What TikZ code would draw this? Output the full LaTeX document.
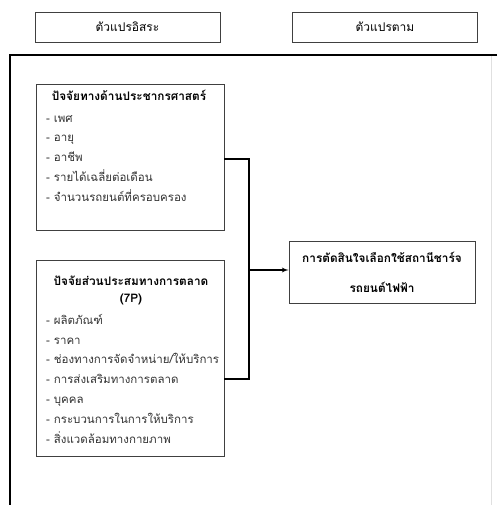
\documentclass[tikz,border=0pt]{standalone}
\usepackage{fontspec}
\setmainfont[Script=Thai]{Loma}
\usetikzlibrary{arrows}

\begin{document}
\begin{tikzpicture}[x=1pt,y=-1pt]
	\tikzset{font=\fontsize{12}{19.8}\selectfont}
	\tikzset{headbox/.style = {draw=black!75,line width=0.8pt,minimum width=185pt,minimum height=30pt,inner sep=0pt}}
	\tikzset{factbox/.style = {draw=black!75,line width=0.8pt,minimum width=188pt,inner sep=0pt}}
	\tikzset{title/.style = {font=\fontsize{11.8}{17}\selectfont\bfseries,align=center,anchor=north,inner sep=0pt}}
	\tikzset{items/.style = {font=\fontsize{11.5}{19.8}\selectfont,align=left,anchor=north west,inner sep=0pt,text=black!80}}
	\tikzset{link/.style = {line width=1.3pt}}
	\useasboundingbox (0,0) rectangle (497,505);
    % variable headings
    \node[headbox] (indep) at (127.5,27) {ตัวแปรอิสระ};
    \node[headbox] (dep) at (385,27) {ตัวแปรตาม};
    % frame
    \draw[line width=1.6pt] (497,55) -- (10,55) -- (10,505);
    \draw[black!12,line width=0.8pt] (491,56) -- (491,505);
    % demographic factors
    \node[factbox,minimum height=146pt] (demo) at (130,157) {};
    \node[title] (demotitle) at (129,90) {ปัจจัยทางด้านประชากรศาสตร์};
    \node[items] (demolist) at (46,115) {- เพศ\\- อายุ\\- อาชีพ\\- รายได้เฉลี่ยต่อเดือน\\- จำนวนรถยนต์ที่ครอบครอง};
    % marketing mix
    \node[factbox,minimum height=196pt] (mix) at (130,358) {};
    \node[title] (mixtitle) at (131,276) {ปัจจัยส่วนประสมทางการตลาด\\(7P)};
    \node[items] (mixlist) at (46,314) {- ผลิตภัณฑ์\\- ราคา\\- ช่องทางการจัดจำหน่าย/ให้บริการ\\- การส่งเสริมทางการตลาด\\- บุคคล\\- กระบวนการในการให้บริการ\\- สิ่งแวดล้อมทางกายภาพ};
    % decision
    \node[draw=black!75,line width=0.8pt,minimum width=186pt,minimum height=62pt,
          font=\fontsize{11.8}{30}\selectfont\bfseries,align=center] (decide) at (382,272)
          {การตัดสินใจเลือกใช้สถานีชาร์จ\\รถยนต์ไฟฟ้า};
    %links
    \coordinate (join) at (249,270);
    \draw[link] ([yshift=-2pt]demo.east) -| (join);
    \draw[link] ([yshift=-21pt]mix.east) -| (join);
    \draw[link,->,>=latex'] (join) -- (join -| decide.west);
\end{tikzpicture}
\end{document}
